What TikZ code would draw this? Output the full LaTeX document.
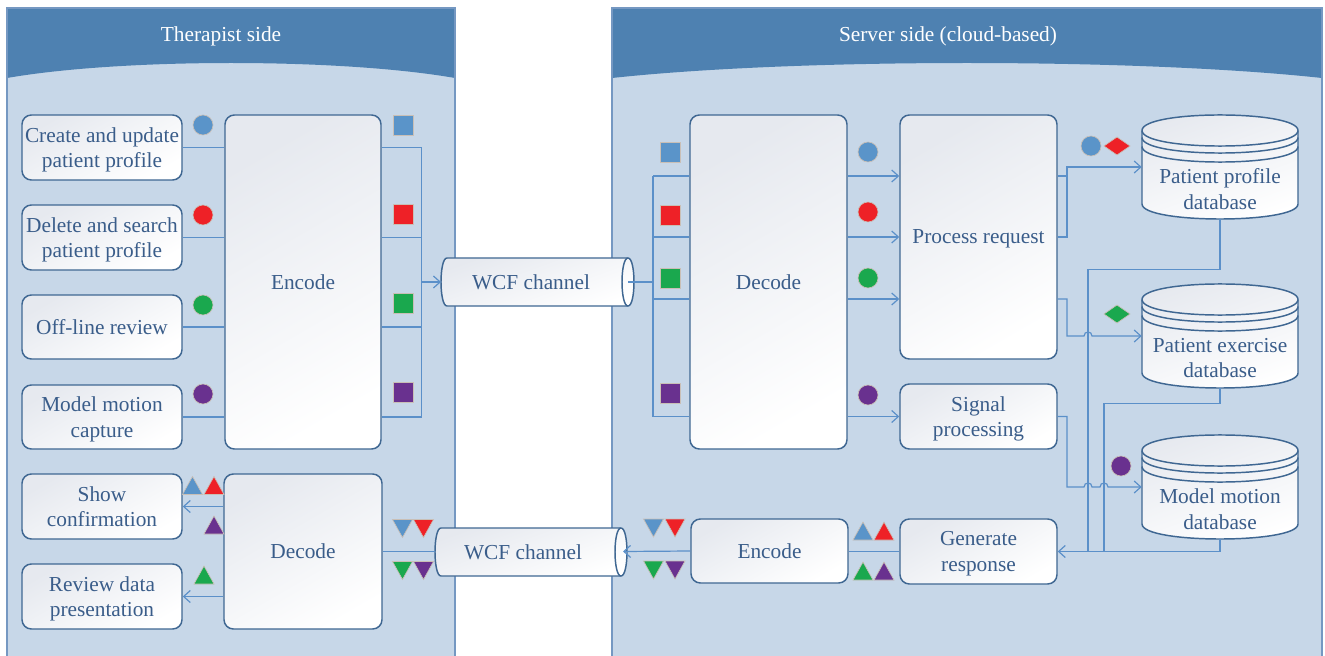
\documentclass[tikz,border=0pt]{standalone}
\usepackage{fontspec}
\setmainfont{Liberation Serif}
\usetikzlibrary{arrows.meta,calc}

\definecolor{hdr}{HTML}{4E81B1}
\definecolor{pane}{HTML}{C7D7E8}
\definecolor{paneedge}{HTML}{7598C2}
\definecolor{boxedge}{HTML}{3F6792}
\definecolor{wire}{HTML}{5B90C9}
\definecolor{ink}{HTML}{3A5D8A}
\definecolor{boxtop}{HTML}{E6E9EF}
\definecolor{cblue}{HTML}{5A94C9}
\definecolor{cred}{HTML}{EE2127}
\definecolor{cgreen}{HTML}{1AA84E}
\definecolor{cpurple}{HTML}{69318F}
\definecolor{symedge}{HTML}{C9BFB6}

\newcommand\boxfont{\fontsize{16}{19}\selectfont}

% colour-coded message markers
\newcommand\sigdot[3]{\draw[sym,fill=#3] (#1,#2) circle [radius=10];}
\newcommand\sigsq[3]{\draw[sym,fill=#3] (#1-10,#2-10) rectangle (#1+10,#2+10);}
\newcommand\sigup[3]{\draw[sym,fill=#3] (#1-10,#2+9) -- (#1+10,#2+9) -- (#1,#2-9) -- cycle;}
\newcommand\sigdown[3]{\draw[sym,fill=#3] (#1-10,#2-9) -- (#1+10,#2-9) -- (#1,#2+9) -- cycle;}
\newcommand\sigdiam[3]{\draw[sym,fill=#3] (#1-13,#2) -- (#1,#2-9) -- (#1+13,#2) -- (#1,#2+9) -- cycle;}

% database drum: #1 name, #2 top edge, #3 label
\newcommand\dbase[3]{%
  \pgfmathsetmacro\dbEc{#2+15.5}%
  \pgfmathsetmacro\dbEu{#2+15.5-20.7}%
  \pgfmathsetmacro\dbEl{#2+15.5+20.7}%
  \pgfmathsetmacro\dbEb{#2+89}%
  \pgfmathsetmacro\dbEbl{#2+89+20}%
  \pgfmathsetmacro\dbBa{#2+22.5}%
  \pgfmathsetmacro\dbBal{#2+22.5+20.7}%
  \pgfmathsetmacro\dbBb{#2+31.5}%
  \pgfmathsetmacro\dbBbl{#2+31.5+20.7}%
  \path[shell] (1142,\dbEc) -- (1142,\dbEb) .. controls (1142,\dbEbl) and (1298,\dbEbl) .. (1298,\dbEb)
     -- (1298,\dbEc) .. controls (1298,\dbEu) and (1142,\dbEu) .. (1142,\dbEc) -- cycle;
  \draw[rim] (1142,\dbEc) .. controls (1142,\dbEl) and (1298,\dbEl) .. (1298,\dbEc);
  \draw[rim] (1142,\dbBa) .. controls (1142,\dbBal) and (1298,\dbBal) .. (1298,\dbBa);
  \draw[rim] (1142,\dbBb) .. controls (1142,\dbBbl) and (1298,\dbBbl) .. (1298,\dbBb);
  \node[inner sep=0pt, minimum width=117pt, minimum height=78pt] (#1) at (1220,#2+52) {};
  \node[lbl] (#1-text) at (1220,#2+74) {#3};
}

\begin{document}
\begin{tikzpicture}[x=0.75pt, y=-0.75pt,
  box/.style={draw=boxedge, line width=1.1pt, rounded corners=7pt,
    top color=boxtop, bottom color=white, shading angle=30,
    text=ink, align=center, inner sep=2pt, font=\boxfont, text depth=-1.5pt},
  shell/.style={draw=boxedge, line width=1.1pt, top color=boxtop, bottom color=white, shading angle=20},
  rim/.style={draw=boxedge, line width=1.1pt},
  lbl/.style={text=ink, align=center, font=\boxfont, text depth=-1.5pt},
  title/.style={text=white, font=\boxfont},
  wire/.style={draw=wire, line width=0.9pt},
  arr/.style={wire, -{Straight Barb[length=5pt,width=9pt]}},
  sym/.style={draw=symedge, line width=0.5pt}]

\useasboundingbox (0,0) rectangle (1325,656);

% the two sides
\fill[pane] (7,8) rectangle (455,656);
\fill[pane] (612,8) rectangle (1322,656);
\fill[hdr] (7,8) -- (455,8) -- (455,78) .. controls (340,58) and (122,58) .. (7,78) -- cycle;
\fill[hdr] (612,8) -- (1322,8) -- (1322,78) .. controls (1137,58) and (797,58) .. (612,78) -- cycle;
\draw[paneedge, line width=0.8pt] (7,656) -- (7,8) -- (455,8) -- (455,656);
\draw[paneedge, line width=0.8pt] (612,656) -- (612,8) -- (1322,8) -- (1322,656);
\node[title] (hdrL) at (221,36) {Therapist side};
\node[title] (hdrR) at (948,36) {Server side (cloud-based)};

% therapist side
\node[box, minimum width=120pt, minimum height=48.75pt] (in1) at (102,147.5) {Create and update\\patient profile};
\node[box, minimum width=120pt, minimum height=48.75pt] (in2) at (102,237.5) {Delete and search\\patient profile};
\node[box, minimum width=120pt, minimum height=48pt] (in3) at (102,327) {Off-line review};
\node[box, minimum width=120pt, minimum height=48pt] (in4) at (102,417) {Model motion\\capture};
\node[box, minimum width=117pt, minimum height=250.5pt] (enc) at (303,282) {Encode};
\node[box, minimum width=120pt, minimum height=48.75pt] (show) at (102,506.5) {Show\\confirmation};
\node[box, minimum width=120pt, minimum height=48.75pt] (rev) at (102,596.5) {Review data\\presentation};
\node[box, minimum width=118.5pt, minimum height=116.25pt] (decL) at (303,551.5) {Decode};

% server side
\node[box, minimum width=117.75pt, minimum height=250.5pt] (decR) at (768.5,282) {Decode};
\node[box, minimum width=117.75pt, minimum height=183pt] (proc) at (978.5,237) {Process request};
\node[box, minimum width=117.75pt, minimum height=48.75pt] (sig) at (978.5,416.5) {Signal\\processing};
\node[box, minimum width=117.75pt, minimum height=48.75pt] (gen) at (978.5,551.5) {Generate\\response};
\node[box, minimum width=117.75pt, minimum height=48pt] (encR) at (769.5,551) {Encode};

% WCF channels
\path[shell] (447,258) -- (628,258) .. controls (636,258) and (636,306) .. (628,306)
  -- (447,306) .. controls (439,306) and (439,258) .. (447,258) -- cycle;
\draw[rim] (628,258) .. controls (620,258) and (620,306) .. (628,306);
\node[lbl] (wcf1) at (531,282) {WCF channel};
\coordinate (wcf1 in) at (441,282);
\coordinate (wcf1 out) at (628,282);

\path[shell] (441,528) -- (621,528) .. controls (629,528) and (629,576) .. (621,576)
  -- (441,576) .. controls (433,576) and (433,528) .. (441,528) -- cycle;
\draw[rim] (621,528) .. controls (613,528) and (613,576) .. (621,576);
\node[lbl] (wcf2) at (523,552) {WCF channel};
\coordinate (wcf2 in) at (623,551.5);
\coordinate (wcf2 out) at (435,551.5);

% databases
\dbase{pp}{115}{Patient profile\\database}
\dbase{ex}{284}{Patient exercise\\database}
\dbase{mm}{435}{Model motion\\database}

% lanes and junctions
\coordinate (busL) at (421.5,282);
\coordinate (busR) at (653,282);
\coordinate (laneA) at (0,176);
\coordinate (laneC) at (0,299);
\coordinate (jP) at (1067,0);
\coordinate (retA) at (1088,551.5);
\coordinate (retB) at (1104,551.5);

% therapist requests -> encoder -> channel
\foreach \n in {in1,in2,in3,in4} {
  \draw[wire] (\n.east) -- (\n.east -| enc.west);
  \draw[wire] (\n -| enc.east) -- (\n -| busL);
}
\draw[wire] (in1 -| busL) -- (in4 -| busL);
\draw[arr] (busL) -- (wcf1 in);

% channel -> decoder -> services
\draw[wire] (wcf1 out) -- (busR);
\draw[wire] (busR |- laneA) -- (busR |- sig);
\draw[wire] (busR |- laneA) -- (decR.west |- laneA);
\draw[wire] (busR |- proc) -- (decR.west |- proc);
\draw[wire] (busR |- laneC) -- (decR.west |- laneC);
\draw[wire] (busR |- sig) -- (decR.west |- sig);
\draw[arr] (decR.east |- laneA) -- (proc.west |- laneA);
\draw[arr] (decR.east |- proc) -- (proc.west);
\draw[arr] (decR.east |- laneC) -- (proc.west |- laneC);
\draw[arr] (decR.east |- sig) -- (sig.west);

% services -> databases
\draw[wire] (proc.east |- laneA) -- (jP |- laneA);
\draw[arr] (proc.east) -- (jP |- proc) -- (jP |- pp) -- (pp.west);
\draw[arr] (proc.east |- laneC) -- (jP |- laneC) -- (jP |- ex)
  -- ($(retA |- ex)+(-4,0)$) .. controls +(0,-5.3) and +(0,-5.3) .. ($(retA |- ex)+(4,0)$)
  -- (ex.west);
\draw[arr] (sig.east) -- (jP |- sig) -- (jP |- mm)
  -- ($(retA |- mm)+(-4,0)$) .. controls +(0,-5.3) and +(0,-5.3) .. ($(retA |- mm)+(4,0)$)
  -- ($(retB |- mm)+(-4,0)$) .. controls +(0,-5.3) and +(0,-5.3) .. ($(retB |- mm)+(4,0)$)
  -- (mm.west);

% databases -> response
\draw[wire] (pp.south) -- ++(0,50) -| (retA);
\draw[wire] (ex.south) -- ++(0,15) -| (retB);
\draw[arr] (mm.south) |- (gen.east);
\draw[wire] (gen.west) -- (gen.west -| encR.east);
\draw[arr] (encR.west) -- (wcf2 in);
\draw[wire] (wcf2 out) -- (wcf2 out -| decL.east);
\draw[arr] (decL.west |- show) -- (show.east);
\draw[arr] (decL.west |- rev) -- (rev.east);

% markers: therapist side
\sigdot{203}{125}{cblue}
\sigdot{203}{215}{cred}
\sigdot{203}{305}{cgreen}
\sigdot{203}{394}{cpurple}
\sigsq{403}{125}{cblue}
\sigsq{403}{214}{cred}
\sigsq{403}{303}{cgreen}
\sigsq{403}{392}{cpurple}
\sigup{192.5}{485.5}{cblue}
\sigup{214}{485.5}{cred}
\sigup{214}{525}{cpurple}
\sigup{204}{575}{cgreen}
\sigdown{402.5}{528.5}{cblue}
\sigdown{423.5}{528.5}{cred}
\sigdown{402.5}{570.5}{cgreen}
\sigdown{423.5}{570.5}{cpurple}

% markers: server side
\sigsq{670}{152}{cblue}
\sigsq{670}{215}{cred}
\sigsq{670}{278}{cgreen}
\sigsq{670}{393}{cpurple}
\sigdot{868}{152}{cblue}
\sigdot{868}{212}{cred}
\sigdot{868}{278}{cgreen}
\sigdot{868}{395}{cpurple}
\sigdot{1091}{146}{cblue}
\sigdiam{1117}{146}{cred}
\sigdiam{1117}{314}{cgreen}
\sigdot{1121}{466}{cpurple}
\sigdown{653.5}{528}{cblue}
\sigdown{675}{528}{cred}
\sigdown{653.5}{570}{cgreen}
\sigdown{675}{570}{cpurple}
\sigup{863}{531}{cblue}
\sigup{884}{531}{cred}
\sigup{863}{571}{cgreen}
\sigup{884}{571}{cpurple}
\end{tikzpicture}
\end{document}
